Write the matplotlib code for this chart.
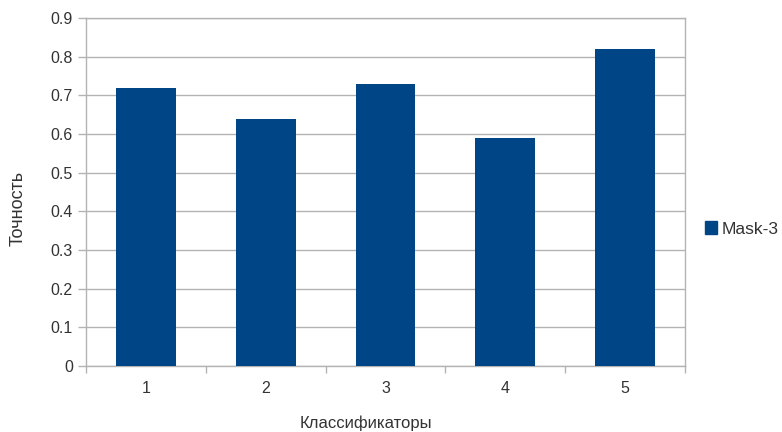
import matplotlib
matplotlib.use("Agg")
import matplotlib.pyplot as plt
import numpy as np
from matplotlib.patches import Patch

plt.rcParams['font.family'] = ['Liberation Sans', 'DejaVu Sans']

categories = ["1", "2", "3", "4", "5"]
accuracy = [0.72, 0.64, 0.73, 0.59, 0.82]
series_name = "Mask-3"
y_ticks = [0, 0.1, 0.2, 0.3, 0.4, 0.5, 0.6, 0.7, 0.8, 0.9]
y_tick_labels = ["0", "0.1", "0.2", "0.3", "0.4", "0.5", "0.6", "0.7", "0.8", "0.9"]

bar_color = "#004586"
grid_color = "#b3b3b3"
text_color = "#333333"

W, H = 782, 432
fig = plt.figure(figsize=(W / 100, H / 100), dpi=100)
ax = fig.add_axes([86 / W, 1 - 366 / H, (685 - 86) / W, (366 - 18) / H])

x = np.arange(len(categories))
ax.bar(x, accuracy, width=0.5, color=bar_color, zorder=3)

ax.set_xlim(-0.5, len(categories) - 0.5)
ax.set_ylim(0, 0.9)
ax.set_yticks(y_ticks)
ax.set_yticklabels(y_tick_labels)
ax.yaxis.grid(True, color=grid_color, linewidth=1, zorder=0)

# category labels at centres, tick marks at the category boundaries
ax.set_xticks(x)
ax.set_xticklabels(categories)
ax.set_xticks(np.arange(-0.5, len(categories), 1.0), minor=True)
ax.tick_params(axis='x', which='major', length=0, pad=11, labelsize=11.5, colors=text_color)
ax.tick_params(axis='x', which='minor', length=5, color=grid_color, width=1)
ax.tick_params(axis='y', length=6, color=grid_color, width=1, pad=3.5, labelsize=11.5,
               labelcolor=text_color)

for side in ["left", "right", "top", "bottom"]:
    ax.spines[side].set_color(grid_color)
    ax.spines[side].set_linewidth(1)

fig.text(18.5 / W, 1 - 208 / H, "Точность", rotation=90, ha="center", va="center",
         fontsize=13, color=text_color)
fig.text(366 / W, 1 - 423 / H, "Классификаторы", ha="center", va="center",
         fontsize=12, color=text_color)

handle = Patch(facecolor=bar_color, edgecolor=bar_color)
fig.legend([handle], [series_name], loc="center left", bbox_to_anchor=(705 / W, 1 - 229 / H),
           frameon=False, fontsize=12.5, handlelength=0.7, handleheight=0.7,
           handletextpad=0.25, borderpad=0, borderaxespad=0, labelcolor=text_color)

fig.savefig("out.png", dpi=100)
